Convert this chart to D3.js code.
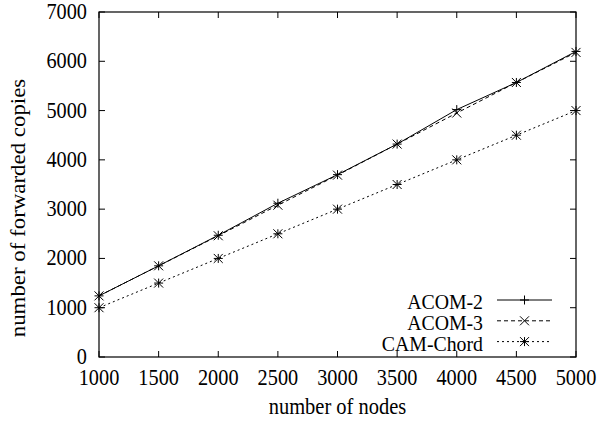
<!DOCTYPE html>
<html>
<head>
<meta charset="utf-8">
<script src="https://cdn.jsdelivr.net/npm/d3@7"></script>
<style>
	body { margin: 0; background: #fff; }
	svg text { font-family: "Liberation Serif", "DejaVu Serif", serif; fill: #000; }
</style>
</head>
<body>
<div id="vis_container"></div>
<script>
var nodes = [1000, 1500, 2000, 2500, 3000, 3500, 4000, 4500, 5000];
var acom2 = [1240, 1850, 2470, 3120, 3700, 4320, 5020, 5570, 6200];
var acom3 = [1240, 1850, 2460, 3080, 3690, 4320, 4950, 5570, 6180];
var camChord = [1000, 1500, 2000, 2500, 3000, 3500, 4000, 4500, 5000];
var xTicks = [1000, 1500, 2000, 2500, 3000, 3500, 4000, 4500, 5000];
var yTicks = [0, 1000, 2000, 3000, 4000, 5000, 6000, 7000];

var chart = {};
chart.width = 597;
chart.height = 421;
chart.margin = {"top": 12, "left": 99, "right": 21, "bottom": 64};
chart.stretch = 1.1; // glyphs in the picture are a little taller than wide

chart.svg = d3.select("#vis_container").append("svg")
	.attr("width", chart.width)
	.attr("height", chart.height);

chart.x = d3.scaleLinear()
	.domain([1000, 5000])
	.range([chart.margin.left, chart.width - chart.margin.right]);
chart.y = d3.scaleLinear()
	.domain([0, 7000])
	.range([chart.height - chart.margin.bottom, chart.margin.top]);

var x0 = chart.x.range()[0], x1 = chart.x.range()[1];
var y0 = chart.y.range()[0], y1 = chart.y.range()[1];

function label(x, y, str, size, anchor) {
	return chart.svg.append("text")
		.attr("transform", "translate(" + x + "," + y + ") scale(1," + chart.stretch + ")")
		.attr("text-anchor", anchor).attr("font-size", size)
		.text(str);
}

// ticks, mirrored inward (gnuplot style)
var tickLen = 6;
xTicks.forEach(function(t) {
	chart.svg.append("line").attr("x1", chart.x(t)).attr("x2", chart.x(t))
		.attr("y1", y0).attr("y2", y0 - tickLen).attr("stroke", "#000");
	chart.svg.append("line").attr("x1", chart.x(t)).attr("x2", chart.x(t))
		.attr("y1", y1).attr("y2", y1 + tickLen).attr("stroke", "#000");
	label(chart.x(t), y0 + 28, t, 20.3, "middle");
});
yTicks.forEach(function(t) {
	chart.svg.append("line").attr("x1", x0).attr("x2", x0 + tickLen)
		.attr("y1", chart.y(t)).attr("y2", chart.y(t)).attr("stroke", "#000");
	chart.svg.append("line").attr("x1", x1).attr("x2", x1 - tickLen)
		.attr("y1", chart.y(t)).attr("y2", chart.y(t)).attr("stroke", "#000");
	label(x0 - 12, chart.y(t) + 7, t, 20.3, "end");
});

chart.svg.append("rect")
	.attr("x", x0).attr("y", y1)
	.attr("width", x1 - x0).attr("height", y0 - y1)
	.attr("fill", "none").attr("stroke", "#000").attr("stroke-width", 1.2);

label((x0 + x1) / 2, 414, "number of nodes", 20.5, "middle");
chart.svg.append("text")
	.attr("transform", "translate(25,208) rotate(-90) scale(" + chart.stretch + ",1)")
	.attr("text-anchor", "middle").attr("font-size", 20.8)
	.text("number of forwarded copies");

var series = [
	{name: "ACOM-2", values: acom2, dash: null, marker: "plus"},
	{name: "ACOM-3", values: acom3, dash: "4,3", marker: "cross"},
	{name: "CAM-Chord", values: camChord, dash: "2,3", marker: "star"}
];

function drawMarker(g, type, cx, cy) {
	var s = 4.5;
	var paths = [];
	if (type == "plus" || type == "star") {
		paths.push("M" + (cx - s) + "," + cy + "H" + (cx + s));
		paths.push("M" + cx + "," + (cy - s) + "V" + (cy + s));
	}
	if (type == "cross" || type == "star") {
		paths.push("M" + (cx - s) + "," + (cy - s) + "L" + (cx + s) + "," + (cy + s));
		paths.push("M" + (cx - s) + "," + (cy + s) + "L" + (cx + s) + "," + (cy - s));
	}
	g.append("path").attr("d", paths.join("")).attr("stroke", "#000")
		.attr("stroke-width", 1).attr("fill", "none");
}

var line = d3.line()
	.x(function(d, i) { return chart.x(nodes[i]); })
	.y(function(d) { return chart.y(d); });

series.forEach(function(s, k) {
	var g = chart.svg.append("g");
	g.append("path")
		.attr("d", line(s.values))
		.attr("fill", "none").attr("stroke", "#000").attr("stroke-width", 1)
		.attr("stroke-dasharray", s.dash);
	s.values.forEach(function(v, i) {
		drawMarker(g, s.marker, chart.x(nodes[i]), chart.y(v));
	});

	// legend
	var ly = 300 + k * 20.8;
	label(483, ly + 9, s.name, 19.8, "end");
	g.append("line")
		.attr("x1", 497).attr("x2", 552).attr("y1", ly).attr("y2", ly)
		.attr("stroke", "#000").attr("stroke-width", 1)
		.attr("stroke-dasharray", s.dash);
	drawMarker(g, s.marker, 524.5, ly);
});
</script>
</body>
</html>
